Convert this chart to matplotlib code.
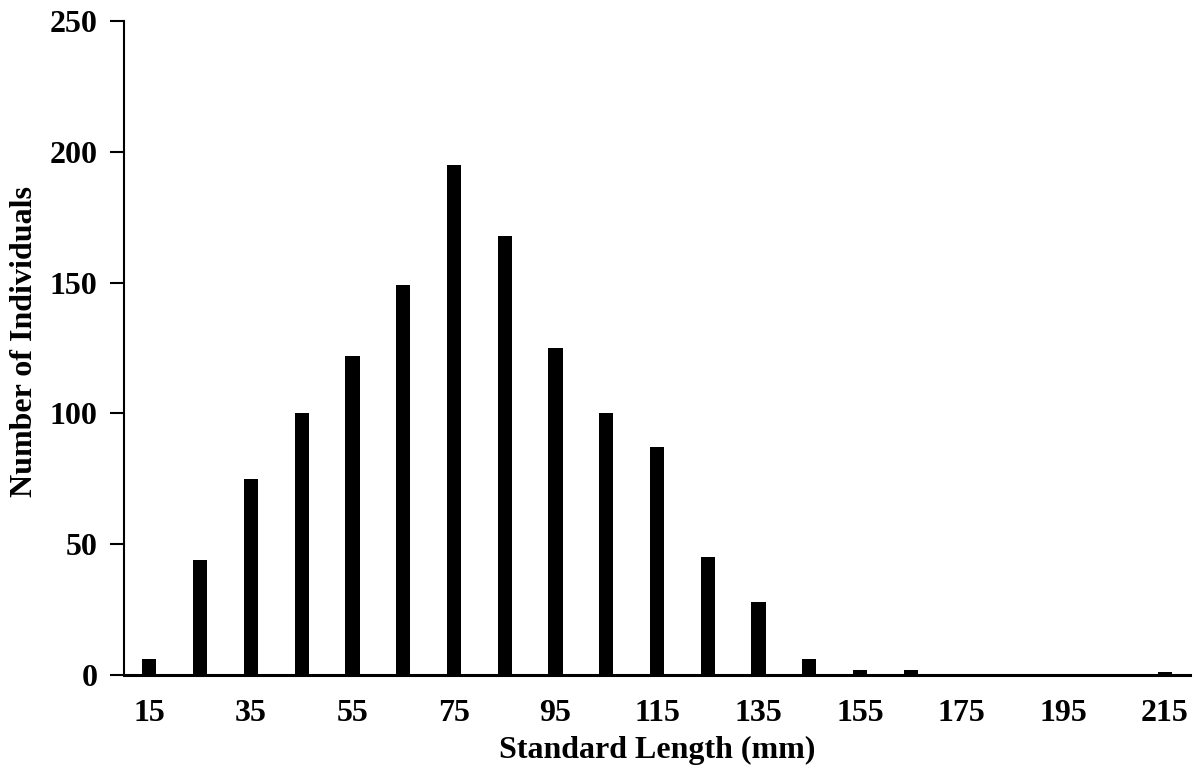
import matplotlib
matplotlib.use("Agg")
import matplotlib.pyplot as plt
import numpy as np

# length class midpoints (mm) and counts
length_classes = [15, 25, 35, 45, 55, 65, 75, 85, 95, 105, 115,
                  125, 135, 145, 155, 165, 175, 185, 195, 205, 215]
counts = [6, 44, 75, 100, 122, 149, 195, 168, 125, 100, 87,
          45, 28, 6, 2, 2, 0, 0, 0, 0, 1]
y_ticks = [0, 50, 100, 150, 200, 250]

plt.rcParams['font.family'] = ['Liberation Serif', 'DejaVu Serif']
plt.rcParams['font.weight'] = 'bold'

fig = plt.figure(figsize=(11.99, 7.78), dpi=100)
ax = fig.add_axes([124 / 1199, 1 - 675 / 778, (1190 - 124) / 1199, (675 - 21) / 778])

x = np.arange(len(length_classes))
ax.bar(x, counts, width=0.28, color='black')

ax.set_xlim(-0.5, len(length_classes) - 0.5)
ax.set_ylim(0, 250)
ax.set_yticks(y_ticks)
ax.set_yticklabels([str(v) for v in y_ticks], fontsize=23, fontweight='bold')
ax.set_xticks(x[::2])
ax.set_xticklabels([str(v) for v in length_classes[::2]], fontsize=23, fontweight='bold')

ax.spines['top'].set_visible(False)
ax.spines['right'].set_visible(False)
ax.spines['left'].set_linewidth(1.5)
ax.spines['bottom'].set_linewidth(2.2)
ax.tick_params(axis='y', direction='out', length=10, width=1.5, pad=9)
ax.tick_params(axis='x', length=0, pad=17)

ax.set_xlabel('Standard Length (mm)', fontsize=23, fontweight='bold', labelpad=6)
ax.set_ylabel('Number of Individuals', fontsize=23, fontweight='bold')
ax.yaxis.set_label_coords(-0.08, 0.51)

fig.savefig('out.png', dpi=100)
